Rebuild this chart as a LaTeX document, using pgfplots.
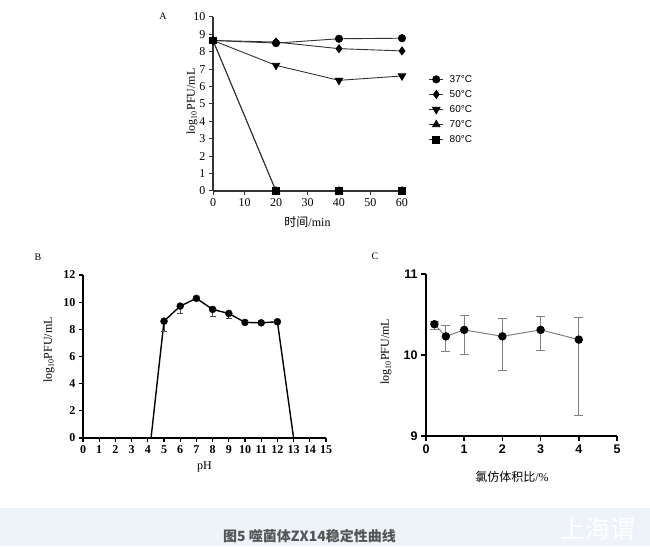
\documentclass[border=0pt]{standalone}
\usepackage{fontspec}
\setmainfont{Liberation Serif}
\setsansfont{Liberation Sans}
\newfontfamily\cjk{Noto Sans CJK SC}
\usepackage{pgfplots}
\pgfplotsset{compat=1.18}
\definecolor{lineA}{HTML}{333333}
\definecolor{band}{HTML}{EEF2F9}
\definecolor{captxt}{HTML}{555555}
\definecolor{grayline}{HTML}{808080}

\pgfplotstableread{
x y
0 8.65
20 8.50
40 8.75
60 8.78
}\tA
\pgfplotstableread{
x y
0 8.65
20 8.56
40 8.18
60 8.05
}\tB
\pgfplotstableread{
x y
0 8.65
20 7.22
40 6.36
60 6.61
}\tC
\pgfplotstableread{
x y
0 8.65
20 0
40 0
60 0
}\tD
\pgfplotstableread{
x y
0 8.65
20 0
40 0
60 0
}\tE
\pgfplotstableread{
x y
4.2 0
5 8.60
6 9.71
7 10.28
8 9.47
9 9.17
10 8.51
11 8.48
12 8.56
13 0
}\pHline
\pgfplotstableread{
x y e
5 8.60 0.72
6 9.71 0.52
7 10.28 0.08
8 9.47 0.52
9 9.17 0.36
10 8.51 0.08
11 8.48 0.06
12 8.56 0.08
}\pHpts
\pgfplotstableread{
x y ep em
0.22 10.38 0.03 0.06
0.52 10.23 0.13 0.18
1 10.31 0.18 0.30
2 10.23 0.22 0.42
3 10.31 0.17 0.25
4 10.19 0.27 0.93
}\chl

\begin{document}
\begin{tikzpicture}[x=1pt,y=1pt]
\useasboundingbox (0,0) rectangle (650,546);
\fill[white] (0,0) rectangle (650,546);
\fill[band] (0,0) rectangle (650,38);
\node[anchor=base west, font=\cjk\bfseries\fontsize{14}{14}\selectfont, text=captxt, inner sep=0pt] at (223,5) {图5 噬菌体ZX14稳定性曲线};
\node[anchor=west, font=\cjk\fontsize{25}{25}\selectfont, text=white, inner sep=0pt] at (560,17) {上海谓};

\node[font=\fontsize{10}{10}\selectfont] at (163,530) {A};
\node[font=\fontsize{10}{10}\selectfont] at (38,289) {B};
\node[font=\fontsize{10}{10}\selectfont] at (375,290) {C};

% Panel A
\begin{axis}[
  at={(213pt,355pt)}, anchor=south west, scale only axis,
  width=189pt, height=174pt,
  xmin=0, xmax=60, ymin=0, ymax=10,
  axis x line*=bottom, axis y line*=left,
  xtick={0,10,...,60}, ytick={0,1,...,10},
  tick align=outside, major tick length=4pt,
  axis line style={line width=1.2pt, lineA, -},
  tick style={line width=1pt, lineA},
  /pgf/number format/assume math mode=true,
  tick label style={font=\fontsize{12}{12}\selectfont},
  xlabel={{\cjk 时间}/min},
  ylabel={log\textsubscript{10}PFU/mL},
  label style={font=\fontsize{12}{12}\selectfont},
  x label style={at={(axis description cs:0.5,-0.178)}, anchor=center},
  y label style={at={(axis description cs:-0.111,0.514)}, anchor=center},
  legend cell align=left,
  legend style={at={(1.125,0.69)}, anchor=north west, draw=none, fill=none,
    font=\sffamily\fontsize{10}{10}\selectfont, row sep=2.6pt,
    /tikz/every odd column/.append style={column sep=4pt}},
  legend image code/.code={\draw[#1, mark repeat=2, mark phase=2] plot coordinates {(0pt,0pt)(7pt,0pt)(14pt,0pt)};},
]
\addplot[lineA, line width=0.9pt, mark=*, mark size=3.6pt, mark options={fill=black, draw=black, solid}] table {\tA};
\addlegendentry{37°C}
\addplot[lineA, line width=0.9pt, mark=diamond*, mark size=3.9pt, mark options={fill=black, draw=black, solid}] table {\tB};
\addlegendentry{50°C}
\addplot[lineA, line width=0.9pt, mark=triangle*, mark size=4.2pt, mark options={fill=black, draw=black, solid, rotate=180}] table {\tC};
\addlegendentry{60°C}
\addplot[lineA, line width=0.9pt, mark=triangle*, mark size=4.2pt, mark options={fill=black, draw=black, solid}] table {\tD};
\addlegendentry{70°C}
\addplot[lineA, line width=0.9pt, mark=square*, mark size=3.4pt, mark options={fill=black, draw=black, solid}] table {\tE};
\addlegendentry{80°C}
\end{axis}

% Panel B
\begin{axis}[
  at={(83pt,108pt)}, anchor=south west, scale only axis,
  width=243pt, height=163pt,
  xmin=0, xmax=15, ymin=0, ymax=12,
  axis x line*=bottom, axis y line*=left,
  xtick={0,1,...,15}, ytick={0,2,...,12},
  tick align=outside, major tick length=4pt,
  axis line style={line width=1.5pt, black, -},
  tick style={line width=1.2pt, black},
  /pgf/number format/assume math mode=true,
  tick label style={font=\bfseries\fontsize{12}{12}\selectfont},
  xlabel={pH},
  ylabel={log\textsubscript{10}PFU/mL},
  label style={font=\fontsize{12}{12}\selectfont},
  x label style={at={(axis description cs:0.5,-0.178)}, anchor=center},
  y label style={at={(axis description cs:-0.14,0.54)}, anchor=center},
]
\addplot[black, line width=1.4pt, mark=none] table {\pHline};
\addplot[only marks, mark=*, mark size=3.5pt, mark options={fill=black, draw=black},
  error bars/.cd, y dir=minus, y explicit,
  error bar style={line width=0.8pt, black!70},
  error mark=-,
  error mark options={rotate=90, line width=0.8pt, black!70, mark size=3pt}]
  table[x=x, y=y, y error=e] {\pHpts};
\end{axis}

% Panel C
\begin{axis}[
  at={(426pt,110pt)}, anchor=south west, scale only axis,
  width=191pt, height=162pt,
  xmin=0, xmax=5, ymin=9, ymax=11,
  axis x line*=bottom, axis y line*=left,
  xtick={0,1,...,5}, ytick={9,10,11},
  tick align=outside, major tick length=5pt,
  axis line style={line width=2pt, black, -},
  tick style={line width=1.6pt, black},
  /pgf/number format/assume math mode=true,
  tick label style={font=\sffamily\bfseries\fontsize{12.5}{12.5}\selectfont},
  xlabel={{\cjk 氯仿体积比}/\%},
  ylabel={log\textsubscript{10}PFU/mL},
  label style={font=\fontsize{12}{12}\selectfont},
  x label style={at={(axis description cs:0.45,-0.253)}, anchor=center},
  y label style={at={(axis description cs:-0.209,0.52)}, anchor=center},
]
\addplot[grayline, line width=1pt, mark=*, mark size=3.7pt, mark options={fill=black, draw=black},
  error bars/.cd, y dir=both, y explicit,
  error bar style={line width=0.8pt, grayline},
  error mark=-,
  error mark options={rotate=90, line width=0.8pt, grayline, mark size=4.5pt}]
  table[x=x, y=y, y error plus=ep, y error minus=em] {\chl};
\end{axis}
\end{tikzpicture}
\end{document}
